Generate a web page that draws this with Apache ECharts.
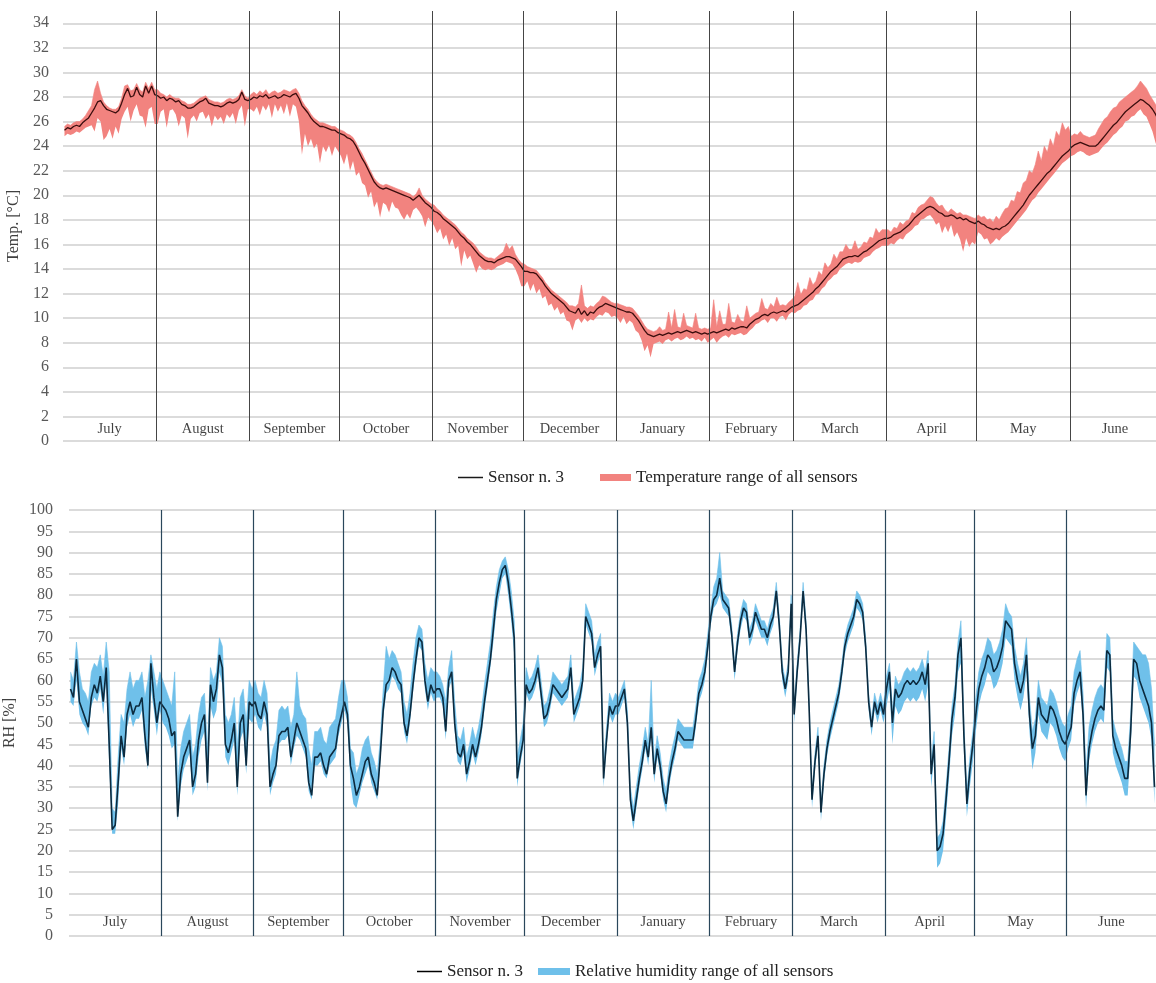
<!DOCTYPE html>
<html>
<head>
<meta charset="utf-8">
<script src="https://cdn.jsdelivr.net/npm/echarts@6/dist/echarts.min.js"></script>
<style>
  html, body { margin: 0; padding: 0; background: #ffffff; }
  #chart { width: 1156px; height: 983px; }
</style>
</head>
<body>
<div id="chart"></div>
<script>
// Monitoring year, July to June, one value per day
const months = ['July', 'August', 'September', 'October', 'November', 'December',
                'January', 'February', 'March', 'April', 'May', 'June'];
const monthDays = [31, 31, 30, 31, 30, 31, 31, 28, 31, 30, 31, 30];

// Temperature of sensor n. 3 [°C], one row per month
const tempSensor = [
  25.3,25.5,25.4,25.6,25.7,25.6,25.9,26.1,26.3,26.7,27.1,27.6,27.7,27.3,27.0,26.9,26.8,26.7,26.9,27.5,28.2,28.7,28.0,28.1,28.8,28.2,28.0,28.9,28.3,28.9,28.2,
  28.1,27.9,28.0,27.7,27.9,27.8,27.6,27.7,27.4,27.3,27.1,27.1,27.2,27.4,27.6,27.7,27.9,27.5,27.4,27.3,27.3,27.2,27.3,27.5,27.6,27.5,27.6,27.8,28.4,27.8,27.7,
  27.8,28.0,27.9,28.1,28.0,28.2,27.9,28.0,28.1,27.9,28.0,28.2,28.1,28.0,28.2,28.3,27.9,27.3,27.0,26.7,26.3,26.0,25.8,25.6,25.6,25.5,25.4,25.3,25.3,25.1,
  25.0,24.9,24.7,24.6,24.4,24.0,23.5,23.0,22.6,22.1,21.6,21.1,20.8,20.6,20.5,20.6,20.5,20.4,20.3,20.2,20.1,20.0,19.9,19.8,19.6,19.8,20.0,19.7,19.4,19.2,19.0,
  18.7,18.6,18.4,18.1,17.9,17.7,17.5,17.3,17.0,16.7,16.5,16.2,16.0,15.7,15.4,15.1,14.9,14.7,14.6,14.6,14.5,14.7,14.8,14.9,15.0,15.0,14.9,14.8,14.5,14.2,
  13.8,13.8,13.7,13.7,13.6,13.3,13.0,12.6,12.3,12.0,11.8,11.6,11.4,11.2,10.9,10.6,10.5,10.4,10.8,10.3,10.6,10.2,10.5,10.4,10.7,10.9,11.0,11.2,11.1,11.0,10.9,
  10.8,10.7,10.6,10.5,10.5,10.4,10.1,9.8,9.4,9.0,8.7,8.6,8.5,8.6,8.7,8.6,8.7,8.8,8.7,8.8,8.9,8.8,8.9,9.0,8.9,8.8,8.9,8.8,8.7,8.8,8.7,
  8.8,8.9,8.8,8.9,9.0,9.1,9.0,9.2,9.1,9.2,9.3,9.3,9.2,9.5,9.7,9.9,10.0,10.2,10.3,10.2,10.4,10.5,10.4,10.5,10.6,10.5,10.7,10.9,
  11.0,11.1,11.3,11.5,11.7,11.9,12.1,12.4,12.6,12.9,13.2,13.5,13.8,14.0,14.2,14.5,14.8,14.9,15.0,15.0,15.1,15.0,15.2,15.4,15.5,15.7,15.9,16.1,16.3,16.4,16.5,
  16.5,16.6,16.8,16.9,17.0,17.2,17.4,17.6,17.9,18.2,18.4,18.6,18.8,19.0,19.1,19.0,18.8,18.6,18.5,18.3,18.3,18.4,18.3,18.1,18.2,18.0,18.1,17.9,17.8,17.7,
  17.9,17.7,17.6,17.4,17.3,17.2,17.3,17.2,17.4,17.5,17.7,18.0,18.3,18.6,18.9,19.2,19.6,20.0,20.3,20.6,20.9,21.2,21.5,21.8,22.0,22.3,22.6,22.9,23.2,23.4,23.6,
  23.9,24.1,24.2,24.3,24.2,24.1,24.0,24.0,24.0,24.2,24.5,24.8,25.1,25.4,25.7,25.9,26.2,26.5,26.8,27.0,27.2,27.4,27.6,27.8,27.7,27.5,27.3,27.0,26.6,26.1
];

// Lowest temperature among all sensors [°C]
const tempMin = [
  24.8,25.0,24.9,25.0,25.2,25.1,25.3,25.5,25.6,25.7,25.2,26.3,26.0,24.5,24.8,25.4,24.6,25.6,25.0,26.2,26.8,27.2,26.0,26.9,27.4,26.5,26.4,25.5,27.0,27.2,25.8,
  25.8,26.8,27.0,25.5,26.9,27.0,26.6,25.6,26.5,26.3,24.6,26.2,26.5,26.0,26.7,26.8,26.2,26.6,25.6,26.5,26.1,26.4,25.8,26.6,26.3,26.7,25.8,26.9,27.3,25.6,27.0,
  27.0,26.8,27.2,26.5,27.3,26.9,27.4,26.3,27.4,26.8,27.3,26.6,27.5,26.4,27.4,27.2,26.0,23.3,25.0,24.0,24.6,23.8,24.2,22.6,24.0,23.5,24.1,23.2,24.0,23.6,
  23.2,22.5,23.4,22.0,22.8,21.6,21.9,21.0,20.8,19.8,20.3,19.0,19.5,18.2,19.4,19.2,18.6,19.5,19.0,18.9,18.4,18.0,18.5,18.1,18.8,19.0,18.7,18.3,17.4,18.2,17.9,
  17.5,16.9,17.3,16.4,16.8,15.9,16.5,15.6,15.9,14.2,15.5,14.8,15.1,14.4,13.7,14.3,14.0,13.9,14.0,13.9,14.0,14.2,14.3,14.4,14.6,14.5,14.4,14.0,13.4,12.6,
  12.6,13.0,12.2,12.8,12.0,12.4,11.6,11.8,11.0,11.2,10.6,10.9,10.3,10.5,9.8,9.7,9.0,9.8,10.0,9.6,10.0,9.7,9.9,9.8,10.1,10.3,10.2,10.5,10.4,10.1,10.2,
  10.0,9.6,10.1,9.5,9.8,9.6,9.0,8.8,8.2,7.3,7.8,6.8,7.9,8.0,8.1,7.9,8.2,8.3,8.1,8.3,8.4,8.2,8.3,8.5,8.3,8.4,8.2,8.3,8.1,8.4,8.0,
  8.2,8.4,8.0,8.3,8.5,8.6,8.4,8.7,8.6,8.7,8.8,8.6,8.7,9.0,9.2,9.5,9.6,9.8,9.9,9.6,10.0,10.0,9.7,10.1,10.2,9.8,10.3,10.5,
  10.4,10.6,10.7,11.0,11.1,11.4,11.5,11.9,12.0,12.4,12.6,13.0,13.2,13.5,13.6,14.0,14.2,14.4,14.5,14.4,14.6,14.5,14.6,14.9,15.0,15.1,15.4,15.6,15.7,15.9,15.9,
  15.9,16.1,16.0,16.3,16.5,16.4,16.8,17.0,17.2,17.5,17.6,18.0,18.1,18.3,18.4,18.1,17.6,17.8,16.9,17.5,17.0,17.6,16.6,17.0,16.4,15.4,16.5,15.8,16.2,16.0,
  17.0,16.8,16.4,16.5,16.0,16.2,16.5,16.3,16.6,16.8,17.0,17.3,17.6,17.9,18.2,18.5,18.8,19.2,19.6,19.8,20.2,20.5,20.8,21.1,21.4,21.7,22.0,22.3,22.6,22.8,23.0,
  23.2,23.3,23.5,23.6,23.5,23.3,23.2,23.3,23.4,23.5,23.8,24.1,24.3,24.6,24.9,25.1,25.4,25.6,26.0,26.1,26.4,26.5,26.8,27.0,26.6,26.4,25.8,25.2,24.3,23.6
];

// Highest temperature among all sensors [°C]
const tempMax = [
  25.6,25.8,25.7,25.9,26.0,26.0,26.2,26.5,26.9,27.3,28.6,29.3,28.3,27.6,27.3,27.1,27.0,27.0,27.2,27.9,28.9,29.0,28.5,28.6,29.1,28.6,28.4,29.2,28.7,29.2,28.6,
  28.6,28.3,28.2,28.0,28.2,28.0,27.9,27.9,27.7,27.6,27.4,27.4,27.5,27.7,27.9,28.0,28.1,27.8,27.7,27.6,27.6,27.5,27.6,27.8,27.9,27.8,27.9,28.1,28.6,28.1,27.9,
  28.2,28.4,28.2,28.5,28.3,28.6,28.2,28.4,28.5,28.3,28.4,28.6,28.5,28.4,28.6,28.7,28.3,27.7,27.3,27.0,26.6,26.3,26.1,25.9,25.9,25.8,25.7,25.6,25.6,25.4,
  25.3,25.2,25.0,24.9,24.7,24.3,23.8,23.4,22.9,22.4,21.9,21.4,21.1,20.9,20.8,20.9,20.8,20.7,20.6,20.5,20.4,20.3,20.2,20.1,19.9,20.1,20.6,20.0,19.7,19.5,19.3,
  19.2,18.9,18.7,18.4,18.2,18.0,17.8,17.6,17.3,17.0,16.8,16.5,16.3,16.1,15.8,15.4,15.2,15.0,14.9,14.9,14.8,15.0,15.2,15.4,16.1,15.6,15.9,15.2,14.8,14.5,
  14.4,14.2,14.1,14.0,13.9,13.6,13.3,12.9,12.6,12.3,12.1,11.9,11.7,11.5,11.3,11.0,11.0,10.9,11.2,12.7,11.0,10.8,11.0,10.9,11.2,11.4,11.8,11.7,11.5,11.3,11.2,
  11.2,11.1,11.0,10.9,10.9,10.8,10.5,10.2,9.8,9.4,9.1,9.0,8.9,9.0,9.3,9.0,9.1,10.5,9.2,10.7,9.3,9.2,10.4,9.4,9.3,9.2,10.4,9.2,9.1,9.2,9.1,
  9.2,11.5,9.3,10.6,9.5,9.5,11.2,9.7,9.6,10.3,9.8,9.7,11.0,10.0,10.2,10.4,10.5,11.6,10.8,10.7,11.2,10.9,11.7,11.0,11.1,11.0,11.3,11.5,
  11.8,12.9,11.9,12.4,12.3,13.3,12.7,13.0,13.8,13.5,14.5,14.1,14.4,15.2,14.8,15.4,15.4,16.0,15.6,15.6,16.3,15.6,15.8,16.2,16.1,16.6,16.5,17.3,16.9,17.2,17.2,
  17.2,17.0,17.4,17.3,17.8,17.6,17.9,18.0,18.6,18.5,19.0,19.2,19.3,19.6,19.9,19.8,19.4,19.1,19.2,18.8,18.6,18.9,18.7,18.5,18.6,18.4,18.4,18.3,18.2,18.1,
  18.4,18.2,18.3,18.0,18.1,17.8,18.3,18.0,18.5,18.9,19.0,19.6,19.5,20.3,20.2,21.0,21.2,22.0,21.8,22.5,23.6,22.8,24.0,23.5,24.6,24.0,25.2,24.8,25.9,25.3,25.6,
  24.8,25.0,24.9,25.2,24.9,24.8,24.7,24.8,24.9,25.4,25.8,26.2,26.4,26.8,27.1,27.2,27.6,27.8,28.0,28.2,28.4,28.6,28.9,29.3,29.0,28.7,28.2,27.8,27.4,26.8
];

// Relative humidity of sensor n. 3 [%]
const rhSensor = [
  58,56,65,55,53,51,49,56,59,57,61,55,63,45,25,26,36,47,42,52,55,52,54,54,56,47,40,64,56,50,55,
  54,53,51,47,48,28,38,42,44,46,35,38,46,50,52,36,59,55,58,66,63,45,43,46,50,35,50,52,40,55,54,
  55,52,51,55,52,35,38,40,47,48,48,49,42,46,50,48,46,44,36,33,42,42,43,40,38,42,43,44,49,52,
  55,52,40,37,33,35,38,41,42,38,36,33,42,53,59,60,63,62,60,59,50,47,52,59,65,70,69,60,55,59,57,
  58,58,56,48,60,62,50,43,42,45,38,41,45,42,45,49,55,60,65,72,79,83,86,87,83,77,70,37,42,46,
  59,57,58,60,63,57,51,52,55,59,58,57,56,57,58,63,52,54,56,60,75,73,71,63,66,68,37,46,54,52,54,
  54,56,58,50,32,27,32,37,41,46,42,49,38,44,40,34,31,37,41,44,48,47,46,46,46,46,51,57,59,62,68,
  75,79,80,84,79,78,77,71,62,69,74,77,76,70,72,76,74,72,72,70,73,75,81,73,62,58,62,78,
  52,62,70,81,72,54,32,41,47,29,38,44,48,51,54,57,62,68,71,73,75,79,78,76,68,55,49,55,52,55,52,
  58,62,50,58,56,57,59,60,59,60,59,60,62,59,64,38,45,20,21,24,32,41,51,56,66,70,47,31,39,45,
  52,58,61,63,66,65,62,63,65,68,74,73,72,64,60,57,60,66,52,44,47,56,52,51,50,54,53,51,48,46,45,
  47,49,57,60,62,52,33,44,48,51,53,54,53,67,66,47,44,42,40,37,37,48,65,64,60,58,56,54,50,35
];

// Lowest relative humidity among all sensors [%]
const rhMin = [
  55,54,60,52,50,49,47,54,56,55,58,52,60,40,24,24,31,44,40,49,52,49,51,51,53,44,39,58,53,47,53,
  50,49,47,44,45,27,35,39,41,43,33,35,42,46,48,34,54,51,53,62,59,42,40,43,46,33,46,48,38,51,50,
  52,49,48,52,49,33,36,38,45,46,46,47,40,44,47,46,44,42,34,32,40,40,41,38,37,40,41,42,47,50,
  53,50,36,31,30,33,36,38,40,36,34,32,40,51,57,58,61,60,58,57,48,45,50,57,63,68,67,58,53,57,55,
  56,56,54,46,58,60,48,41,40,43,36,39,43,40,43,47,53,58,63,69,76,80,84,85,80,74,66,35,40,44,
  57,55,56,58,61,55,49,50,53,57,56,55,54,55,56,61,50,52,54,58,73,71,69,61,64,66,35,44,52,50,52,
  52,54,56,48,30,25,30,35,39,44,40,47,36,42,38,32,29,35,39,42,46,45,44,44,44,44,49,55,57,60,66,
  73,77,78,80,77,76,75,69,60,67,72,75,74,68,70,74,72,70,70,68,71,73,79,71,60,56,60,76,
  50,60,68,79,70,52,30,39,45,27,36,42,46,49,52,55,60,66,69,71,73,77,76,74,66,53,47,53,50,53,50,
  54,58,45,54,52,53,55,56,55,56,55,56,58,55,59,35,42,16,17,20,28,37,47,52,62,64,43,28,35,41,
  48,54,57,59,62,61,58,59,61,64,70,69,68,60,56,53,56,62,48,39,43,52,48,47,46,50,49,47,44,42,41,
  44,46,54,57,59,49,30,41,45,48,50,51,50,63,62,43,40,38,36,33,33,44,61,60,56,54,52,50,46,31
];

// Highest relative humidity among all sensors [%]
const rhMax = [
  62,60,69,62,58,57,55,62,64,63,66,61,69,62,30,29,42,52,50,58,62,58,60,60,62,56,60,66,62,58,62,
  60,58,56,54,62,36,44,48,50,52,42,45,52,56,57,44,63,60,62,70,68,52,50,52,56,44,56,58,50,60,58,
  60,57,56,60,57,40,44,46,53,54,53,54,49,52,62,54,52,51,44,40,48,48,49,46,45,49,50,51,56,60,
  60,56,44,43,38,40,44,46,47,43,41,38,46,58,68,65,67,66,64,62,55,52,57,64,70,73,72,64,60,63,62,
  62,61,59,55,63,67,55,47,46,49,42,45,49,46,49,53,59,64,69,76,82,86,88,89,86,81,74,42,46,50,
  63,60,61,63,66,60,54,55,58,62,61,60,59,60,61,66,55,57,59,63,78,76,74,66,69,71,40,49,57,55,57,
  56,58,60,53,35,30,35,40,44,49,45,60,41,47,43,37,34,40,44,47,51,50,49,49,49,49,54,60,62,65,71,
  77,82,84,90,81,80,79,73,64,71,76,79,78,72,74,78,76,74,74,72,75,77,83,75,64,60,64,80,
  54,64,72,83,74,56,34,43,49,31,40,46,50,53,56,59,64,70,73,75,77,81,80,78,70,57,51,57,54,57,54,
  61,64,53,61,59,60,62,63,62,63,62,63,65,62,67,41,48,23,24,27,35,44,54,59,69,74,50,34,42,48,
  56,62,65,67,70,69,66,67,69,72,78,76,75,68,64,61,64,70,56,48,51,60,56,55,54,58,57,55,52,50,49,
  52,54,62,65,67,57,38,49,53,56,58,59,58,71,70,51,48,46,44,41,41,52,69,68,67,66,66,64,58,45
];

// ---- derived helpers (day categories, month boundaries, band parts) ----
const monthStart = [];
monthDays.reduce((acc, n) => { monthStart.push(acc); return acc + n; }, 0);
const totalDays = monthDays.reduce((a, b) => a + b, 0);
const dayCategories = tempSensor.map((_, i) => String(i + 1));
const boundaries = monthStart.slice(1);
const monthMid = monthStart.map((s, i) => s + monthDays[i] / 2);

function bandParts(lo, hi, mid) {
  const lower = lo.map((v, i) => Math.min(v, mid[i]));
  const upper = hi.map((v, i) => Math.max(v, mid[i]));
  return { base: lower, span: upper.map((v, i) => +(v - lower[i]).toFixed(2)) };
}

const FONT = 'Liberation Serif';
const TEMP_LINE = '#3a0d0d';
const TEMP_BAND = '#f2837f';
const RH_LINE = '#0c2a3e';
const RH_BAND = '#6fc0ea';

const tBand = bandParts(tempMin, tempMax, tempSensor);
const hBand = bandParts(rhMin, rhMax, rhSensor);

// month names and month separators live on the value x-axis of each grid
function monthSeries(valueAxis, yAxis, yPos, lineColor, lineWidth) {
  return {
    type: 'scatter',
    xAxisIndex: valueAxis, yAxisIndex: yAxis,
    symbolSize: 0,
    silent: true,
    z: 1,
    data: monthMid.map((d, i) => [d, yPos, months[i]]),
    label: {
      show: true, position: 'inside',
      formatter: p => p.data[2],
      fontFamily: FONT, fontSize: 14.5, color: '#111111'
    },
    markLine: {
      silent: true, symbol: ['none', 'none'],
      label: { show: false },
      lineStyle: { color: lineColor, width: lineWidth, type: 'solid' },
      data: boundaries.map(b => ({ xAxis: b }))
    }
  };
}

const hiddenAxis = {
  axisLine: { show: false }, axisTick: { show: false },
  axisLabel: { show: false }, splitLine: { show: false }
};

const chart = echarts.init(document.getElementById('chart'));
const legendText = { fontFamily: FONT, fontSize: 17, color: '#222222' };

chart.setOption({
  animation: false,
  backgroundColor: '#ffffff',
  grid: [
    { left: 63, top: 11, width: 1097, height: 430, containLabel: false, outerBoundsMode: 'none' },
    { left: 69, top: 510, width: 1087, height: 426, containLabel: false, outerBoundsMode: 'none' }
  ],
  xAxis: [
    Object.assign({ type: 'category', gridIndex: 0, data: dayCategories, boundaryGap: true }, hiddenAxis),
    Object.assign({ type: 'value', gridIndex: 0, min: 0, max: totalDays }, hiddenAxis),
    Object.assign({ type: 'category', gridIndex: 1, data: dayCategories, boundaryGap: true }, hiddenAxis),
    Object.assign({ type: 'value', gridIndex: 1, min: 0, max: totalDays }, hiddenAxis)
  ],
  yAxis: [
    {
      type: 'value', gridIndex: 0, min: 0, max: 35, interval: 2,
      name: 'Temp. [°C]', nameLocation: 'middle', nameRotate: 90, nameGap: 31,
      nameTextStyle: { fontFamily: FONT, fontSize: 16, color: '#404040' },
      axisLine: { show: false }, axisTick: { show: false },
      axisLabel: {
        fontFamily: FONT, fontSize: 16, color: '#595959', margin: 14,
        showMaxLabel: false,
        formatter: v => (v > 34 ? '' : String(v))
      },
      splitLine: { show: true, showMaxLine: false, lineStyle: { color: '#cfcfcf', width: 1.5 } }
    },
    {
      type: 'value', gridIndex: 1, min: 0, max: 100, interval: 5,
      name: 'RH [%]', nameLocation: 'middle', nameRotate: 90, nameGap: 38,
      nameTextStyle: { fontFamily: FONT, fontSize: 16, color: '#404040' },
      axisLine: { show: false }, axisTick: { show: false },
      axisLabel: { fontFamily: FONT, fontSize: 16, color: '#595959', margin: 16 },
      splitLine: { show: true, lineStyle: { color: '#cfcfcf', width: 1.5 } }
    }
  ],
  legend: [
    {
      left: 458, top: 469, padding: 0, selectedMode: false,
      icon: 'rect', itemWidth: 25, itemHeight: 1.5, itemGap: 0,
      data: [{ name: 'Sensor n. 3', itemStyle: { color: '#1a1a1a' } }],
      textStyle: legendText
    },
    {
      left: 600, top: 469, padding: 0, selectedMode: false,
      icon: 'rect', itemWidth: 31, itemHeight: 7, itemGap: 0,
      data: [{ name: 'Temperature range of all sensors', itemStyle: { color: TEMP_BAND } }],
      textStyle: legendText
    },
    {
      left: 417, top: 963, padding: 0, selectedMode: false,
      icon: 'rect', itemWidth: 25, itemHeight: 1.5, itemGap: 0,
      data: [{ name: 'Sensor n. 3', itemStyle: { color: '#000000' } }],
      textStyle: legendText
    },
    {
      left: 538, top: 963, padding: 0, selectedMode: false,
      icon: 'rect', itemWidth: 32, itemHeight: 7, itemGap: 0,
      data: [{ name: 'Relative humidity range of all sensors', itemStyle: { color: RH_BAND } }],
      textStyle: legendText
    }
  ],
  series: [
    monthSeries(1, 0, 1, '#454545', 1),
    {
      name: 'tempBase', type: 'line', xAxisIndex: 0, yAxisIndex: 0,
      stack: 'tempRange', data: tBand.base, symbol: 'none', silent: true,
      lineStyle: { width: 0, opacity: 0 }, z: 2
    },
    {
      name: 'Temperature range of all sensors', type: 'line', xAxisIndex: 0, yAxisIndex: 0,
      stack: 'tempRange', data: tBand.span, symbol: 'none', silent: true,
      lineStyle: { width: 0.6, color: TEMP_BAND }, itemStyle: { color: TEMP_BAND },
      areaStyle: { color: TEMP_BAND, opacity: 1 }, z: 2
    },
    {
      name: 'Sensor n. 3', type: 'line', xAxisIndex: 0, yAxisIndex: 0,
      data: tempSensor, symbol: 'none', silent: true,
      lineStyle: { width: 1.3, color: TEMP_LINE }, itemStyle: { color: TEMP_LINE }, z: 3
    },
    monthSeries(3, 1, 3.3, '#2a475b', 1.2),
    {
      name: 'rhBase', type: 'line', xAxisIndex: 2, yAxisIndex: 1,
      stack: 'rhRange', data: hBand.base, symbol: 'none', silent: true,
      lineStyle: { width: 0, opacity: 0 }, z: 2
    },
    {
      name: 'Relative humidity range of all sensors', type: 'line', xAxisIndex: 2, yAxisIndex: 1,
      stack: 'rhRange', data: hBand.span, symbol: 'none', silent: true,
      lineStyle: { width: 0.6, color: RH_BAND }, itemStyle: { color: RH_BAND },
      areaStyle: { color: RH_BAND, opacity: 1 }, z: 2
    },
    {
      name: 'Sensor n. 3', type: 'line', xAxisIndex: 2, yAxisIndex: 1,
      data: rhSensor, symbol: 'none', silent: true,
      lineStyle: { width: 1.6, color: RH_LINE }, itemStyle: { color: RH_LINE }, z: 3
    }
  ]
});
</script>
</body>
</html>
